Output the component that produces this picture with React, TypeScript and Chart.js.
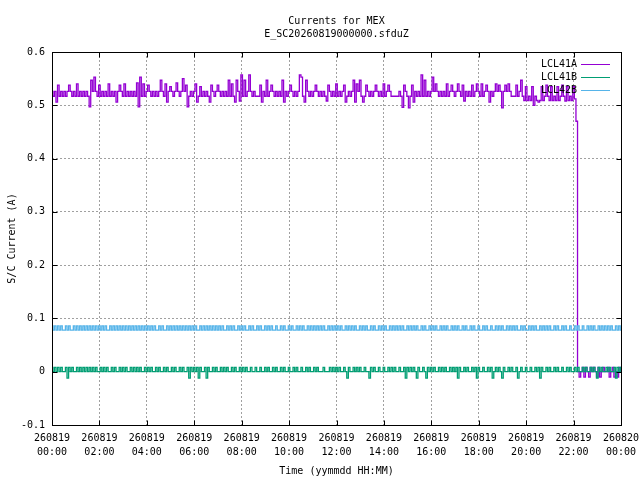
import React, { useEffect, useRef } from 'react'
import { Chart, LineController, LineElement, PointElement, LinearScale } from 'chart.js'

Chart.register(LineController, LineElement, PointElement, LinearScale)

const TITLE_LINES = ['Currents for MEX', 'E_SC20260819000000.sfduZ']
const X_TITLE = 'Time (yymmdd HH:MM)'
const Y_TITLE = 'S/C Current (A)'
const SERIES_NAMES = ['LCL41A', 'LCL41B', 'LCL42B']
const SERIES_COLORS = ['#9400d3', '#009e73', '#56b4e9']

// x axis in minutes from 260819 00:00, one sample every 4 minutes
const STEP_MIN = 4
const X_TICK_LABELS = [
  ['260819', '00:00'], ['260819', '02:00'], ['260819', '04:00'], ['260819', '06:00'],
  ['260819', '08:00'], ['260819', '10:00'], ['260819', '12:00'], ['260819', '14:00'],
  ['260819', '16:00'], ['260819', '18:00'], ['260819', '20:00'], ['260819', '22:00'],
  ['260820', '00:00'],
]
const Y_TICK_LABELS = ['-0.1', '0', '0.1', '0.2', '0.3', '0.4', '0.5', '0.6']

// currents in mA, one row per hour (15 samples)
const LCL41A = [
  526, 517, 526, 506, 538, 517, 526, 517, 526, 517, 526, 538, 526, 517, 526,
  517, 540, 517, 526, 517, 526, 517, 526, 517, 497, 547, 526, 553, 526, 517,
  538, 517, 526, 517, 526, 517, 540, 517, 526, 517, 526, 506, 526, 538, 526,
  517, 540, 517, 526, 517, 526, 517, 526, 517, 542, 497, 553, 517, 540, 517,
  526, 538, 526, 517, 526, 517, 526, 517, 526, 547, 526, 517, 540, 506, 526,
  535, 526, 517, 526, 542, 526, 517, 526, 550, 526, 538, 497, 517, 526, 517,
  526, 540, 506, 517, 535, 517, 526, 517, 526, 517, 506, 538, 526, 517, 526,
  538, 526, 517, 526, 517, 526, 517, 547, 517, 540, 517, 506, 547, 526, 508,
  557, 517, 547, 517, 526, 557, 526, 517, 526, 517, 517, 517, 538, 506, 526,
  517, 547, 517, 526, 538, 526, 517, 526, 517, 526, 517, 547, 506, 526, 517,
  526, 538, 526, 517, 526, 517, 526, 557, 553, 517, 506, 547, 526, 517, 526,
  517, 526, 538, 526, 517, 526, 517, 526, 517, 508, 538, 526, 517, 526, 517,
  540, 517, 526, 517, 526, 538, 506, 517, 526, 517, 526, 547, 506, 540, 526,
  547, 517, 506, 517, 538, 526, 517, 526, 517, 526, 538, 526, 517, 526, 517,
  540, 517, 526, 538, 526, 517, 517, 517, 517, 517, 526, 517, 496, 538, 526,
  517, 495, 517, 538, 506, 526, 517, 526, 517, 557, 517, 547, 517, 526, 517,
  526, 553, 526, 540, 526, 517, 526, 517, 526, 517, 540, 517, 526, 538, 526,
  517, 526, 540, 526, 517, 538, 508, 526, 517, 526, 517, 538, 517, 526, 540,
  526, 517, 540, 517, 526, 538, 526, 506, 526, 517, 526, 540, 526, 538, 526,
  495, 526, 538, 526, 540, 526, 517, 517, 517, 538, 517, 526, 547, 517, 509,
  535, 509, 517, 509, 535, 500, 517, 509, 506, 509, 535, 509, 517, 538, 517,
  509, 535, 509, 517, 509, 535, 509, 517, 538, 517, 508, 535, 509, 517, 509,
  535, 512, 470, 0, -10, 0, 8, -10, 8, 0, -10, 8, 0, 8, 0,
  -10, 8, -10, 0, 8, 0, 0, 8, -10, 0, 8, -10, 0, -10, 8,
  0,
]

const LCL41B = [
  8, 0, 8, 0, 8, 0, 8, 0, 0, 8, -12, 8, 0, 8, 0,
  0, 8, 0, 8, 0, 8, 0, 8, 0, 8, 0, 8, 0, 8, 0,
  0, 8, 0, 8, 0, 8, 0, 0, 8, 0, 8, 0, 0, 8, 0,
  8, 0, 8, 0, 0, 8, 0, 8, 0, 8, 0, 8, 0, 0, 8,
  0, 8, 0, 8, 0, 0, 8, 0, 8, 0, 0, 8, 0, 8, 0,
  0, 8, 0, 8, 0, 0, 8, 0, 8, 0, 0, 8, -12, 8, 0,
  8, 0, 8, -12, 8, 0, 0, 8, -12, 8, 0, 0, 8, 0, 8,
  0, 0, 8, 0, 8, 0, 8, 0, 0, 8, 0, 8, 0, 0, 8,
  0, 8, 0, 8, 0, 0, 8, 0, 0, 8, 0, 0, 8, 0, 0,
  8, 0, 8, 0, 0, 8, 0, 8, 0, 0, 8, 0, 8, 0, 0,
  8, 0, 0, 8, 0, 8, 0, 0, 8, 0, 0, 8, 0, 8, 0,
  0, 8, 0, 8, 0, 0, 0, 8, 0, 0, 0, 8, 0, 8, 0,
  8, 0, 8, 0, 0, 8, 0, -12, 8, 0, 0, 8, 0, 8, 0,
  8, 0, 0, 8, 0, 0, -12, 8, 0, 8, 0, 0, 8, 0, 0,
  8, 0, 0, 8, 0, 8, 0, 8, 0, 0, 8, 0, 0, 8, -12,
  8, 0, 8, 0, 8, 0, -12, 8, 0, 0, 8, 0, -12, 8, 0,
  8, 0, 8, 0, 0, 8, 0, 8, 0, 8, 0, 0, 8, 0, 8,
  0, 8, -12, 8, 0, 0, 8, 0, 8, 0, 0, 8, 0, 8, -12,
  8, 0, 0, 8, 0, 0, 8, 0, 8, -12, 0, 8, 0, 8, 0,
  -12, 8, 0, 0, 8, 0, 8, 0, 0, 8, -12, 0, 8, 0, 0,
  8, 0, 0, 8, 0, 0, 8, 0, 8, -12, 8, 0, 0, 8, 0,
  8, 0, 0, 8, 0, 8, 0, 0, 8, 0, 0, 8, 0, 8, 0,
  0, 8, 0, 8, 0, 0, 8, 0, 8, 0, 0, 8, 0, 8, 0,
  -12, 8, 0, 8, 0, 0, 8, 0, 8, 0, 0, 8, -12, 8, 0,
  8,
]

const LCL42B = [
  86, 78, 86, 78, 86, 78, 86, 78, 78, 86, 78, 86, 78, 78, 86,
  78, 86, 78, 86, 78, 86, 78, 86, 78, 86, 78, 86, 78, 86, 78,
  86, 78, 86, 78, 86, 78, 78, 86, 78, 86, 78, 86, 78, 86, 78,
  86, 78, 86, 78, 86, 78, 86, 78, 86, 78, 86, 78, 86, 78, 86,
  78, 86, 78, 86, 78, 86, 78, 78, 86, 78, 86, 78, 78, 86, 78,
  86, 78, 86, 78, 86, 78, 86, 78, 86, 78, 86, 78, 86, 78, 86,
  78, 86, 78, 78, 86, 78, 86, 78, 86, 78, 86, 78, 86, 78, 86,
  78, 86, 78, 86, 78, 78, 86, 78, 86, 78, 86, 78, 78, 86, 78,
  86, 78, 86, 78, 78, 86, 78, 86, 78, 78, 86, 78, 86, 78, 78,
  86, 78, 86, 78, 86, 78, 78, 86, 78, 78, 86, 78, 86, 78, 78,
  86, 78, 86, 78, 78, 86, 78, 86, 78, 86, 78, 78, 86, 78, 86,
  78, 86, 78, 86, 78, 86, 78, 86, 78, 78, 86, 78, 86, 78, 86,
  78, 86, 78, 86, 78, 78, 86, 78, 86, 78, 86, 78, 86, 78, 78,
  86, 78, 86, 78, 86, 78, 78, 86, 78, 86, 78, 78, 86, 78, 86,
  78, 86, 78, 78, 86, 78, 86, 78, 86, 78, 86, 78, 86, 78, 78,
  86, 78, 86, 78, 86, 78, 86, 78, 78, 86, 78, 86, 78, 78, 86,
  78, 86, 78, 86, 78, 78, 86, 78, 86, 78, 86, 78, 78, 86, 78,
  86, 78, 86, 78, 78, 86, 78, 86, 78, 78, 86, 78, 86, 78, 78,
  86, 78, 78, 86, 78, 86, 78, 78, 86, 78, 78, 86, 78, 86, 78,
  86, 78, 78, 86, 78, 86, 78, 86, 78, 86, 78, 78, 86, 78, 86,
  78, 78, 86, 78, 86, 78, 86, 78, 78, 86, 78, 86, 78, 86, 78,
  86, 78, 78, 86, 78, 86, 78, 78, 86, 78, 86, 78, 78, 86, 78,
  78, 86, 78, 86, 78, 78, 86, 78, 78, 86, 78, 86, 78, 86, 78,
  78, 86, 78, 86, 78, 86, 78, 86, 78, 86, 78, 78, 86, 78, 86,
  78,
]

const SERIES_MA = [LCL41A, LCL41B, LCL42B]
const FONT = '10px "DejaVu Sans Mono", monospace'

// gnuplot look: titles, boxed border with inward tics, key at top right
const gnuplotDecor = {
  id: 'gnuplotDecor',
  afterDatasetsDraw(chart: any) {
    const { ctx, chartArea: a, scales } = chart
    ctx.save()
    ctx.font = FONT
    ctx.fillStyle = '#000'
    ctx.textBaseline = 'middle'
    ctx.textAlign = 'center'
    const cx = (a.left + a.right) / 2
    ctx.fillText(TITLE_LINES[0], cx, 21)
    ctx.fillText(TITLE_LINES[1], cx, 34)
    ctx.fillText(X_TITLE, cx, 471)
    ctx.save()
    ctx.translate(12, (a.top + a.bottom) / 2)
    ctx.rotate(-Math.PI / 2)
    ctx.fillText(Y_TITLE, 0, 0)
    ctx.restore()

    ctx.strokeStyle = '#000'
    ctx.lineWidth = 1
    ctx.setLineDash([])
    const L = Math.round(a.left) + 0.5
    const R = Math.round(a.right) + 0.5
    const T = Math.round(a.top) + 0.5
    const B = Math.round(a.bottom) + 0.5
    ctx.strokeRect(L, T, R - L, B - T)
    ctx.beginPath()
    scales.x.ticks.forEach((t: any) => {
      const px = Math.round(scales.x.getPixelForValue(t.value)) + 0.5
      ctx.moveTo(px, B); ctx.lineTo(px, B - 5)
      ctx.moveTo(px, T); ctx.lineTo(px, T + 5)
    })
    scales.y.ticks.forEach((t: any) => {
      const py = Math.round(scales.y.getPixelForValue(t.value)) + 0.5
      ctx.moveTo(L, py); ctx.lineTo(L + 5, py)
      ctx.moveTo(R, py); ctx.lineTo(R - 5, py)
    })
    ctx.stroke()

    ctx.textAlign = 'right'
    SERIES_NAMES.forEach((name, k) => {
      const y = 64 + k * 13
      ctx.fillStyle = '#000'
      ctx.fillText(name, 577, y)
      ctx.strokeStyle = SERIES_COLORS[k]
      ctx.beginPath()
      ctx.moveTo(581, y + 0.5)
      ctx.lineTo(610, y + 0.5)
      ctx.stroke()
    })
    ctx.restore()
  },
}

export default function App() {
  const canvasRef = useRef<HTMLCanvasElement | null>(null)

  useEffect(() => {
    document.body.style.margin = '0'
    const el = canvasRef.current
    if (!el) return

    const datasets = SERIES_MA.map((vals, k) => ({
      label: SERIES_NAMES[k],
      data: vals.map((v, i) => ({ x: i * STEP_MIN, y: v / 1000 })),
      borderColor: SERIES_COLORS[k],
      borderWidth: 1.3,
      borderJoinStyle: 'miter' as const,
      stepped: 'middle' as const,
      pointRadius: 0,
      tension: 0,
      order: 3 - k,
    }))

    const chart = new Chart(el, {
      type: 'line',
      data: { datasets },
      options: {
        animation: false,
        responsive: false,
        devicePixelRatio: 1,
        layout: { padding: { top: 52, right: 19, left: 0, bottom: 0 } },
        plugins: { legend: { display: false }, tooltip: { enabled: false } },
        scales: {
          x: {
            type: 'linear',
            min: 0,
            max: 1440,
            afterFit: (s: any) => { s.height = 55; s.paddingLeft = 0; s.paddingRight = 0 },
            grid: { color: '#a0a0a0', lineWidth: 1, drawTicks: false },
            border: { display: false, dash: [2, 2] },
            ticks: {
              stepSize: 120,
              autoSkip: false,
              maxRotation: 0,
              padding: 6,
              color: '#000',
              font: { family: '"DejaVu Sans Mono", monospace', size: 10, lineHeight: 1.4 },
              callback: (_v: any, i: number) => X_TICK_LABELS[i],
            },
          },
          y: {
            type: 'linear',
            min: -0.1,
            max: 0.6,
            afterFit: (s: any) => { s.width = 52; s.paddingTop = 0; s.paddingBottom = 0 },
            grid: { color: '#a0a0a0', lineWidth: 1, drawTicks: false },
            border: { display: false, dash: [2, 2] },
            ticks: {
              stepSize: 0.1,
              padding: 7,
              color: '#000',
              font: { family: '"DejaVu Sans Mono", monospace', size: 10 },
              callback: (_v: any, i: number) => Y_TICK_LABELS[i],
            },
          },
        },
      },
      plugins: [gnuplotDecor],
    })

    return () => chart.destroy()
  }, [])

  return (
    <div style={{ width: 640, height: 480, background: '#fff' }}>
      <canvas ref={canvasRef} width={640} height={480} style={{ display: 'block' }}></canvas>
    </div>
  )
}
